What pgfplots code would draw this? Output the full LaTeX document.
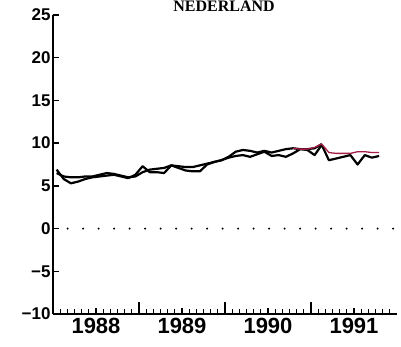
\documentclass[border=0pt]{standalone}
\usepackage{pgfplots}
\pgfplotsset{compat=1.18}
\usepackage{fontspec}
\setmainfont{Liberation Sans}
\newfontfamily\titlefont{Liberation Serif}
\definecolor{fcred}{RGB}{165,30,70}
\begin{document}
\begin{tikzpicture}
\begin{axis}[
  at={(0,0)}, anchor=south west,
  scale only axis, width=344pt, height=299pt,
  xmin=1988, xmax=1992, ymin=-10, ymax=25,
  axis x line*=bottom, axis y line*=left,
  axis line style={line width=2pt},
  tick align=inside,
  major tick length=6pt, minor tick length=5pt,
  every tick/.style={black, line width=1.3pt},
  xtick={1988.5,1989.5,1990.5,1991.5},
  xticklabels={1988,1989,1990,1991},
  minor xtick={1988.0833,1988.1667,1988.25,1988.3333,1988.4167,1988.5833,1988.6667,1988.75,1988.8333,1988.9167,
   1989.0833,1989.1667,1989.25,1989.3333,1989.4167,1989.5833,1989.6667,1989.75,1989.8333,1989.9167,
   1990.0833,1990.1667,1990.25,1990.3333,1990.4167,1990.5833,1990.6667,1990.75,1990.8333,1990.9167,
   1991.0833,1991.1667,1991.25,1991.3333,1991.4167,1991.5833,1991.6667,1991.75,1991.8333,1991.9167},
  extra x ticks={1989,1990,1991},
  extra x tick labels={},
  extra x tick style={major tick length=12pt},
  ytick={-10,-5,0,5,10,15,20,25},
  yticklabels={−10,−5,0,5,10,15,20,25},
  /pgf/number format/assume math mode=true,
  x tick label style={font=\fontsize{22}{22}\selectfont\bfseries, yshift=-1pt},
  y tick label style={font=\fontsize{17}{17}\selectfont\bfseries, xshift=1pt},
  clip=false,
]
\addplot[line width=2.2pt, dash pattern=on 0pt off 15.5pt, line cap=round, forget plot]
  coordinates {(1988.17,0) (1992,0)};
% smoother series (upper)
\addplot[black, line width=2.2pt, line join=round] coordinates {
(1988.042,6.5) (1988.125,6.1) (1988.208,6.0) (1988.292,6.0) (1988.375,6.1) (1988.458,6.1)
(1988.542,6.3) (1988.625,6.5) (1988.708,6.4) (1988.792,6.2) (1988.875,6.0) (1988.958,6.1)
(1989.042,6.6) (1989.125,6.9) (1989.208,7.0) (1989.292,7.1) (1989.375,7.4) (1989.458,7.3)
(1989.542,7.2) (1989.625,7.2) (1989.708,7.4) (1989.792,7.6) (1989.875,7.8) (1989.958,8.0)
(1990.042,8.4) (1990.125,9.0) (1990.208,9.2) (1990.292,9.1) (1990.375,8.9) (1990.458,9.1)
(1990.542,8.9) (1990.625,9.1) (1990.708,9.3) (1990.792,9.4) (1990.875,9.3) (1990.958,9.3)
(1991.042,9.4) (1991.125,9.9)
};
% volatile series
\addplot[black, line width=2.2pt, line join=round] coordinates {
(1988.042,6.9) (1988.125,5.8) (1988.208,5.3) (1988.292,5.5) (1988.375,5.8) (1988.458,6.0)
(1988.542,6.1) (1988.625,6.2) (1988.708,6.3) (1988.792,6.1) (1988.875,5.9) (1988.958,6.3)
(1989.042,7.3) (1989.125,6.6) (1989.208,6.6) (1989.292,6.5) (1989.375,7.4) (1989.458,7.1)
(1989.542,6.8) (1989.625,6.7) (1989.708,6.7) (1989.792,7.5) (1989.875,7.8) (1989.958,8.0)
(1990.042,8.3) (1990.125,8.5) (1990.208,8.6) (1990.292,8.4) (1990.375,8.7) (1990.458,9.0)
(1990.542,8.5) (1990.625,8.6) (1990.708,8.4) (1990.792,8.8) (1990.875,9.3) (1990.958,9.2)
(1991.042,8.6) (1991.125,9.8) (1991.208,8.0) (1991.292,8.2) (1991.375,8.4) (1991.458,8.6)
(1991.542,7.5) (1991.625,8.6) (1991.708,8.3) (1991.792,8.5)
};
% red series
\addplot[fcred, line width=1.3pt, line join=round] coordinates {
(1990.792,9.4) (1990.875,9.3) (1990.958,9.3) (1991.042,9.5) (1991.125,9.9) (1991.208,8.9)
(1991.292,8.8) (1991.375,8.8) (1991.458,8.8) (1991.542,9.0) (1991.625,9.0) (1991.708,8.9)
(1991.792,8.9)
};
\end{axis}
\node[anchor=base, font=\titlefont\fontsize{16}{16}\selectfont\bfseries] at (171pt,302pt) {NEDERLAND};
\pgfresetboundingbox
\useasboundingbox (-53pt,-32pt) rectangle (348pt,314pt);
\end{tikzpicture}
\end{document}
